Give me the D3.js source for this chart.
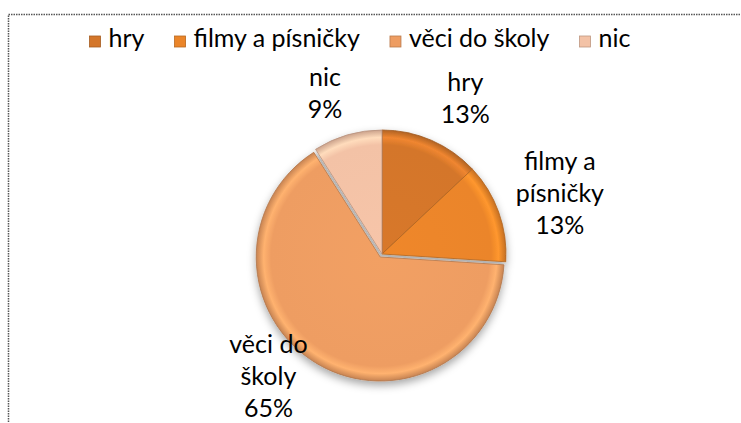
<!DOCTYPE html>
<html>
<head>
<meta charset="utf-8">
<script src="https://cdn.jsdelivr.net/npm/d3@7"></script>
<style>
  body { margin: 0; background: #fff; }
  svg { display: block; }
  text { font-family: Lato, "Liberation Sans", sans-serif; fill: #000; }
</style>
</head>
<body>
<div id="chart"></div>
<script>
(function() {
"use strict"

// data
var categories = ["hry", "filmy a písničky", "věci do školy", "nic"];
var values = [13, 13, 65, 9];
var labelLines = [["hry"], ["filmy a", "písničky"], ["věci do", "školy"], ["nic"]];
var colors = ["#d4762a", "#eb8529", "#ee9d62", "#f3c2a6"];

var width = 741, height = 423;
var cx = 382, cy = 254, radius = 124;
var explode = [0, 0, 3.5, 0]; // věci do školy pulled out a bit
var labelDist = 172;
// small manual nudges for data labels (Excel "best fit")
var labelNudge = [[15, 3], [16, -2], [-26, -25], [-9, 5]];
var fontSize = 25, lineH = 32;

var svg = d3.select("#chart").append("svg")
    .attr("width", width)
    .attr("height", height);

var defs = svg.append("defs");
var shadow = defs.append("filter").attr("id", "shadow")
    .attr("x", "-20%").attr("y", "-20%").attr("width", "140%").attr("height", "140%");
shadow.append("feDropShadow")
    .attr("dx", 0).attr("dy", 4).attr("stdDeviation", 4)
    .attr("flood-color", "#000").attr("flood-opacity", 0.35);

// radial gradients give the bevelled rim
colors.forEach(function(c, i) {
    var base = d3.color(c);
    var g = defs.append("radialGradient").attr("id", "grad" + i)
        .attr("gradientUnits", "userSpaceOnUse")
        .attr("cx", 0).attr("cy", 0).attr("r", radius);
    g.append("stop").attr("offset", "0%").attr("stop-color", base.brighter(0.05));
    g.append("stop").attr("offset", "88%").attr("stop-color", base);
    g.append("stop").attr("offset", "94%").attr("stop-color", base.brighter(0.35));
    g.append("stop").attr("offset", "100%").attr("stop-color", base.darker(0.5));
});

// chart area border (dotted, runs off the right/bottom)
svg.append("rect")
    .attr("x", 8.5).attr("y", 14.5)
    .attr("width", 800).attr("height", 500)
    .attr("fill", "none")
    .attr("stroke", "#555")
    .attr("stroke-width", 1.5)
    .attr("stroke-dasharray", "1.5,1");

var pieData = d3.pie().sort(null).value(function(d) { return d; })(values);
var arc = d3.arc().innerRadius(0).outerRadius(radius);
var total = d3.sum(values);

var pieG = svg.append("g")
    .attr("transform", "translate(" + cx + "," + cy + ")")
    .attr("filter", "url(#shadow)");

pieG.selectAll("path.slice")
    .data(pieData)
    .enter().append("path")
    .attr("class", "slice")
    .attr("transform", function(d, i) {
        var a = (d.startAngle + d.endAngle) / 2;
        return "translate(" + (Math.sin(a) * explode[i]) + "," + (-Math.cos(a) * explode[i]) + ")";
    })
    .attr("d", arc)
    .attr("fill", function(d, i) { return "url(#grad" + i + ")"; })
    .attr("stroke", function(d, i) { return d3.color(colors[i]).darker(0.8); })
    .attr("stroke-width", 0.8)
    .attr("stroke-linejoin", "round");

// data labels
var labG = svg.append("g");
pieData.forEach(function(d, i) {
    var a = (d.startAngle + d.endAngle) / 2;
    var lx = cx + Math.sin(a) * labelDist + labelNudge[i][0];
    var ly = cy - Math.cos(a) * labelDist + labelNudge[i][1];
    var lines = labelLines[i].concat([Math.round(d.value / total * 100) + "%"]);
    var n = lines.length;
    lines.forEach(function(t, j) {
        labG.append("text")
            .attr("x", lx)
            .attr("y", ly + (j - (n - 1) / 2) * lineH + 8)
            .attr("text-anchor", "middle")
            .style("font-size", fontSize + "px")
            .text(t);
    });
});

// legend, centred above the pie
var legG = svg.append("g");
var sq = 11, gapText = 8, gapItem = 30, legBase = 47, legCenter = 360;
var items = legG.selectAll("g.item")
    .data(categories)
    .enter().append("g").attr("class", "item");
items.append("rect")
    .attr("width", sq).attr("height", sq)
    .attr("y", legBase - sq)
    .attr("fill", function(d, i) { return colors[i]; })
    .attr("stroke", function(d, i) { return d3.color(colors[i]).darker(0.7); })
    .attr("stroke-width", 0.8);
items.append("text")
    .attr("x", sq + gapText)
    .attr("y", legBase)
    .style("font-size", fontSize + "px")
    .text(function(d) { return d; });
var widths = [];
items.each(function() { widths.push(this.getBBox().width); });
var totalW = d3.sum(widths) + gapItem * (widths.length - 1);
var xpos = legCenter - totalW / 2;
items.attr("transform", function(d, i) {
    var x = xpos;
    xpos += widths[i] + gapItem;
    return "translate(" + x + ",0)";
});
})();
</script>
</body>
</html>
